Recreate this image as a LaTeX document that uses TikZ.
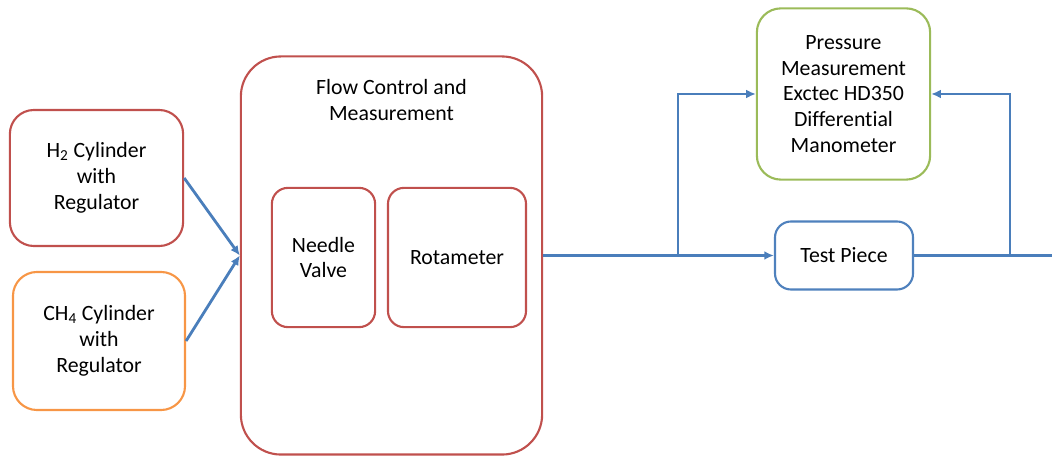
\documentclass[tikz,border=0pt]{standalone}
\usepackage{fontspec}
\setmainfont{Carlito}[Ligatures=NoCommon]
\usetikzlibrary{arrows.meta}

\definecolor{boxred}{RGB}{192,80,77}
\definecolor{boxorange}{RGB}{247,150,70}
\definecolor{boxgreen}{RGB}{155,187,89}
\definecolor{boxblue}{RGB}{79,129,189}
\definecolor{pipeblue}{RGB}{74,126,187}

\begin{document}
\begin{tikzpicture}[x=0.025cm, y=-0.025cm,
	block/.style={draw, line width=1.5pt, rounded corners=0.6cm, align=center, inner sep=2pt, font=\fontsize{15.5}{18.4}\selectfont},
	pipe/.style={draw=pipeblue, line width=2pt},
	flow/.style={pipe, -{Latex[length=2.4mm, width=2.2mm]}}]
	\useasboundingbox (0,0) rectangle (1052,457);
	% gas supply
	\node[block, draw=boxred, minimum width=4.33cm, minimum height=3.4cm] (h2) at (96.5,178) {H\textsubscript{2} Cylinder\\with\\Regulator};
	\node[block, draw=boxorange, minimum width=4.3cm, minimum height=3.45cm] (ch4) at (99,341) {CH\textsubscript{4} Cylinder\\with\\Regulator};
	% flow control
	\node[block, draw=boxred, rounded corners=1cm, minimum width=7.53cm, minimum height=9.95cm] (flowbox) at (391.5,255.5) {};
	\node[align=center, font=\fontsize{15.5}{18.4}\selectfont] (flowlabel) at (391.5,100) {Flow Control and\\Measurement};
	\node[block, draw=boxred, rounded corners=0.4cm, minimum width=2.58cm, minimum height=3.48cm] (needle) at (323.5,257.5) {Needle\\Valve};
	\node[block, draw=boxred, rounded corners=0.4cm, minimum width=3.45cm, minimum height=3.48cm] (rota) at (457,257.5) {Rotameter};
	% measurement
	\node[block, draw=boxgreen, minimum width=4.33cm, minimum height=4.28cm] (press) at (843.5,94) {Pressure\\Measurement\\Exctec HD350\\Differential\\Manometer};
	\node[block, draw=boxblue, rounded corners=0.4cm, minimum width=3.45cm, minimum height=1.7cm] (test) at (844,255.5) {Test Piece};
	\coordinate (j1) at (678,255.5);
	\coordinate (j2) at (1010,255.5);
	\coordinate (outlet) at (1052,255.5);
	% connections
	\draw[flow] (h2.east) -- (flowbox.west);
	\draw[flow] (ch4.east) -- (flowbox.west);
	\draw[flow] (flowbox.east) -- (test.west);
	\draw[flow] (j1) |- (press.west);
	\draw[pipe] (test.east) -- (outlet);
	\draw[flow] (j2) |- (press.east);
\end{tikzpicture}
\end{document}
